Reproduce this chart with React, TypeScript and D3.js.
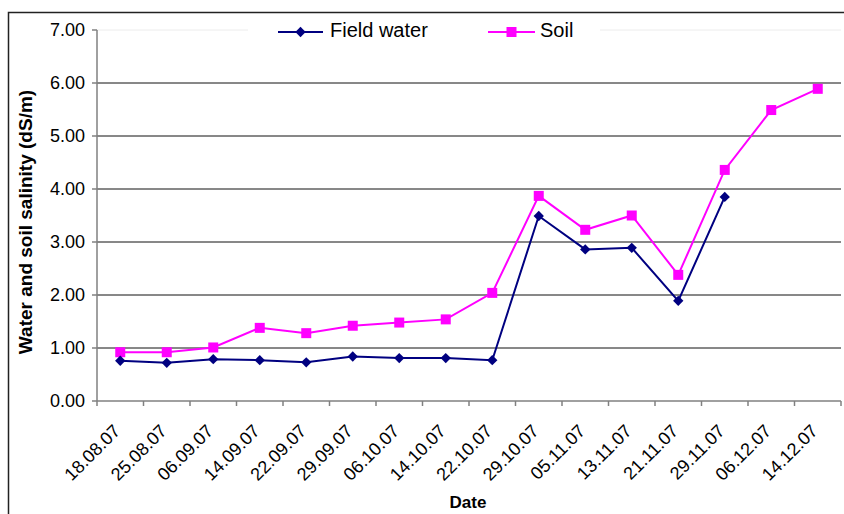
import React from "react";
import * as d3 from "d3";

const dates = [
  "18.08.07", "25.08.07", "06.09.07", "14.09.07", "22.09.07", "29.09.07",
  "06.10.07", "14.10.07", "22.10.07", "29.10.07", "05.11.07", "13.11.07",
  "21.11.07", "29.11.07", "06.12.07", "14.12.07",
];
const fieldWater: (number | null)[] = [
  0.76, 0.72, 0.79, 0.77, 0.73, 0.84, 0.81, 0.81, 0.77, 3.49, 2.86, 2.89,
  1.89, 3.85, null, null,
];
const soil: (number | null)[] = [
  0.92, 0.92, 1.01, 1.38, 1.28, 1.42, 1.48, 1.54, 2.04, 3.87, 3.23, 3.5,
  2.38, 4.36, 5.49, 5.89,
];
const yTicks = [0, 1, 2, 3, 4, 5, 6, 7];

const W = 844;
const H = 514;
const FONT = "'Liberation Sans', Arial, sans-serif";
const NAVY = "#000080";
const MAGENTA = "#FF00FF";

export default function App() {
  const x = d3.scaleBand<string>().domain(dates).range([97, 841]);
  const y = d3.scaleLinear().domain([0, 7]).range([401, 30]);
  const cx = (d: string) => (x(d) ?? 0) + x.bandwidth() / 2;

  const line = d3
    .line<number | null>()
    .defined((v) => v != null)
    .x((_, i) => cx(dates[i]))
    .y((v) => y(v as number));

  const diamond = d3.symbol().type(d3.symbolDiamond2).size(68)();

  const boundaries = d3.range(dates.length + 1).map((i) => 97 + i * x.step());

  return (
    <svg
      width={W}
      height={H}
      style={{ position: "absolute", left: 0, top: 0, background: "#fff" }}
      fontFamily={FONT}
    >
      {/* outer chart frame */}
      <rect x={8.5} y={12.5} width={900} height={600} fill="#fff" stroke="#222" strokeWidth={1.5} />

      {/* horizontal gridlines */}
      {yTicks.slice(1).map((t) => (
        <line
          key={t}
          x1={97}
          x2={841}
          y1={y(t)}
          y2={y(t)}
          stroke={t === 7 ? "#ececec" : "#111"}
          strokeWidth={1}
        />
      ))}

      {/* y axis */}
      <line x1={97} x2={97} y1={30} y2={401} stroke="#808080" strokeWidth={1.5} />
      {yTicks.map((t) => (
        <g key={t}>
          <line x1={92} x2={97} y1={y(t)} y2={y(t)} stroke="#808080" strokeWidth={1.5} />
          <text x={85} y={y(t)} dy="0.36em" textAnchor="end" fontSize={18} fill="#000">
            {t.toFixed(2)}
          </text>
        </g>
      ))}

      {/* x axis */}
      <line x1={97} x2={841} y1={401} y2={401} stroke="#808080" strokeWidth={1.5} />
      {boundaries.map((b, i) => (
        <line key={i} x1={b} x2={b} y1={401} y2={406} stroke="#808080" strokeWidth={1.5} />
      ))}
      {dates.map((d) => (
        <text
          key={d}
          transform={`translate(${cx(d) - 8},${423}) rotate(-45)`}
          dy="0.72em"
          textAnchor="end"
          fontSize={18}
          fill="#000"
        >
          {d}
        </text>
      ))}

      {/* axis titles */}
      <text
        transform={`translate(32,222) rotate(-90)`}
        textAnchor="middle"
        fontSize={19}
        fontWeight="bold"
        fill="#000"
      >
        Water and soil salinity (dS/m)
      </text>
      <text x={468} y={508} textAnchor="middle" fontSize={17} fontWeight="bold" fill="#000">
        Date
      </text>

      {/* series */}
      <path d={line(soil) ?? ""} fill="none" stroke={MAGENTA} strokeWidth={2} />
      <path d={line(fieldWater) ?? ""} fill="none" stroke={NAVY} strokeWidth={2} />
      {soil.map((v, i) =>
        v == null ? null : (
          <rect key={"s" + i} x={cx(dates[i]) - 5} y={y(v) - 5} width={10} height={10} fill={MAGENTA} />
        )
      )}
      {fieldWater.map((v, i) =>
        v == null ? null : (
          <path key={"f" + i} d={diamond ?? ""} transform={`translate(${cx(dates[i])},${y(v)})`} fill={NAVY} />
        )
      )}

      {/* legend */}
      <rect x={248} y={14} width={352} height={32} fill="#fff" />
      <line x1={278} x2={323} y1={32} y2={32} stroke={NAVY} strokeWidth={2} />
      <path d={diamond ?? ""} transform="translate(300.5,32)" fill={NAVY} />
      <text x={330} y={37} fontSize={20} fill="#000">Field water</text>
      <line x1={488} x2={535} y1={32} y2={32} stroke={MAGENTA} strokeWidth={2} />
      <rect x={506.5} y={27} width={10} height={10} fill={MAGENTA} />
      <text x={540} y={37} fontSize={20} fill="#000">Soil</text>
    </svg>
  );
}
